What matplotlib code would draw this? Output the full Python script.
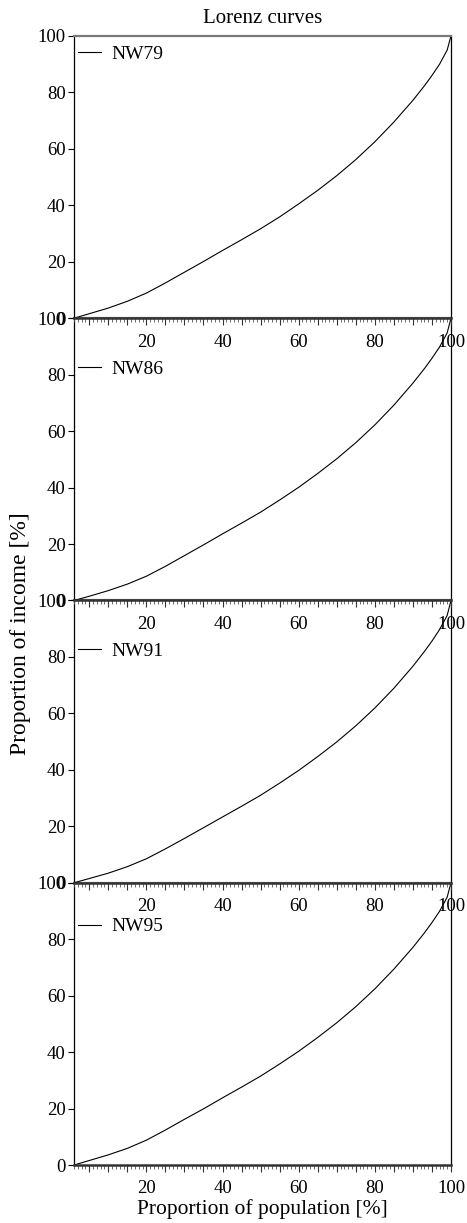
import matplotlib
matplotlib.use("Agg")
import matplotlib.pyplot as plt
from matplotlib.ticker import MultipleLocator, FuncFormatter

# population share [%] and cumulative income share [%]
pop = [1, 5, 10, 15, 20, 25, 30, 35, 40, 45, 50, 55, 60, 65, 70, 75, 80, 85, 90, 93, 95, 97, 99, 100]

nw79 = [0.0, 1.6, 3.6, 6.0, 8.9, 12.5, 16.3, 20.1, 24.0, 27.8, 31.7, 35.9, 40.5, 45.3, 50.5, 56.2, 62.5, 69.5, 77.2, 82.3, 86.0, 90.0, 95.0, 100.0]
nw86 = [0.0, 1.5, 3.5, 5.8, 8.6, 12.1, 15.9, 19.7, 23.6, 27.4, 31.3, 35.6, 40.1, 45.0, 50.2, 55.9, 62.2, 69.2, 77.0, 82.1, 85.8, 89.8, 94.8, 100.0]
nw91 = [0.0, 1.5, 3.4, 5.7, 8.5, 12.0, 15.7, 19.5, 23.3, 27.1, 31.0, 35.3, 39.8, 44.7, 49.9, 55.6, 61.9, 68.9, 76.7, 81.9, 85.6, 89.7, 94.7, 100.0]
nw95 = [0.0, 1.6, 3.6, 5.9, 8.8, 12.4, 16.2, 19.9, 23.8, 27.6, 31.5, 35.8, 40.3, 45.2, 50.4, 56.1, 62.4, 69.4, 77.1, 82.2, 85.9, 89.9, 94.9, 100.0]

series = [nw79, nw86, nw91, nw95]
names = ["NW79", "NW86", "NW91", "NW95"]
legend_y = [0.935, 0.82, 0.82, 0.845]

plt.rcParams['font.family'] = ['Liberation Serif', 'DejaVu Serif']
plt.rcParams['font.size'] = 13.5

fig, axes = plt.subplots(4, 1, figsize=(4.67, 12.23), dpi=100)
fig.subplots_adjust(left=0.1585, right=0.9657, top=0.9706, bottom=0.0474, hspace=0)

for i, (ax, vals, name, ly) in enumerate(zip(axes, series, names, legend_y)):
    ax.plot(pop, vals, color='black', lw=0.8, label=name)
    ax.set_xlim(1, 100)
    ax.set_ylim(0, 100)

    ax.xaxis.set_major_locator(MultipleLocator(5))
    ax.xaxis.set_minor_locator(MultipleLocator(1))
    ax.xaxis.set_major_formatter(FuncFormatter(lambda v, p: f"{int(v)}" if v % 20 == 0 and v > 0 else ""))
    ax.yaxis.set_major_locator(MultipleLocator(20))
    ax.tick_params(axis='x', which='major', direction='out', length=5, width=0.8, pad=6,
                   colors='#333333', labelcolor='black', labelsize=13.5)
    ax.tick_params(axis='x', which='minor', direction='out', length=3, width=0.6, colors='#555555')
    ax.tick_params(axis='y', which='major', direction='out', length=4, width=0.8, pad=2, labelsize=13.5)

    ax.spines['top'].set_color('#7a7a7a')
    ax.spines['top'].set_linewidth(1.6)
    ax.spines['bottom'].set_color('#333333')
    ax.spines['bottom'].set_linewidth(1.8)
    ax.spines['left'].set_linewidth(0.9)
    ax.spines['right'].set_linewidth(0.9)

    ax.legend(loc='center left', bbox_to_anchor=(0.0, ly), frameon=False, borderpad=0.2,
              handlelength=1.2, handletextpad=0.5, borderaxespad=0.0, fontsize=14)
    ax.set_zorder(len(axes) - i)
    ax.patch.set_alpha(0)

axes[0].set_title("Lorenz curves", fontsize=15, pad=9)
axes[-1].set_xlabel("Proportion of population [%]", fontsize=15.5, labelpad=1)
fig.text(0.043, 0.482, "Proportion of income [%]", rotation=90, ha='center', va='center', fontsize=17)

fig.savefig("out.png", dpi=100)
